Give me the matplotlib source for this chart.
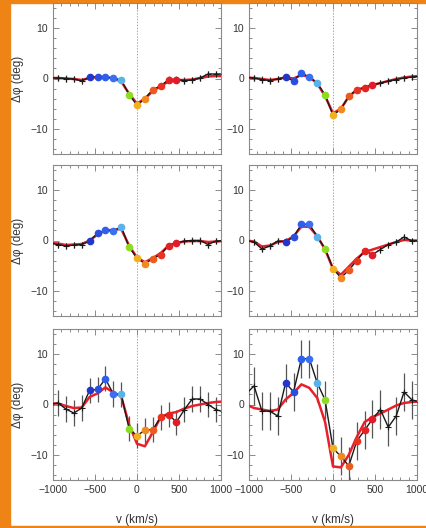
import matplotlib
matplotlib.use("Agg")
import matplotlib.pyplot as plt
from matplotlib.patches import Rectangle
from matplotlib.ticker import MultipleLocator

plt.rcParams['font.family'] = ['Liberation Sans', 'DejaVu Sans']

# velocity channels (km/s)
vel = [-1034, -940, -846, -752, -658, -564, -470, -376, -282, -188, -94, 0,
       94, 188, 282, 376, 470, 564, 658, 752, 846, 940, 1034]

# observed position-angle offsets (deg), one list per panel
obs_1 = [0.1, 0.1, 0.0, -0.1, -0.5, 0.3, 0.3, 0.3, 0.1, -0.3, -3.2, -5.3,
         -4.0, -2.2, -1.5, -0.2, -0.2, -0.4, -0.3, 0.1, 0.9, 0.9, 0.9]
obs_2 = [0.2, 0.1, -0.2, -0.4, -0.1, 0.3, -0.5, 1.1, 0.3, -0.9, -3.3, -7.3,
         -6.1, -3.5, -2.2, -1.8, -1.3, -0.9, -0.5, -0.2, 0.1, 0.3, 0.4]
obs_3 = [-0.5, -0.8, -1.1, -0.9, -0.8, -0.1, 1.4, 2.0, 1.9, 2.7, -1.3, -3.5,
         -4.6, -3.6, -2.8, -1.0, -0.5, -0.1, 0.0, 0.0, -0.8, -0.1, 0.0]
obs_4 = [0.0, -0.3, -1.7, -1.1, -0.1, -0.2, 0.7, 3.2, 3.3, 0.7, -1.6, -5.6,
         -7.4, -5.9, -4.0, -2.0, -2.8, -1.8, -0.8, -0.3, 0.7, -0.1, 0.0]
obs_5 = [0.0, 0.3, -0.9, -1.7, -0.7, 2.8, 3.0, 5.1, 2.1, 2.0, -4.8, -6.2,
         -5.1, -5.0, -2.5, -2.0, -3.5, -1.0, 1.1, 1.1, 0.0, -1.0, -1.5]
obs_6 = [2.1, 3.7, -1.3, -1.3, -2.3, 4.3, 2.5, 9.1, 9.1, 4.3, 0.9, -8.7,
         -10.3, -12.2, -7.3, -5.1, -2.9, -1.0, -4.5, -2.3, 2.5, 0.9, 0.5]

# model curves
mod_1 = [0.1, 0.1, 0.0, -0.1, -0.3, 0.1, 0.3, 0.3, 0.0, -0.6, -3.0, -5.0,
         -4.0, -2.5, -1.5, -0.6, -0.3, -0.3, -0.2, 0.1, 0.4, 0.5, 0.5]
mod_2 = [0.2, 0.1, -0.1, -0.3, -0.1, 0.2, 0.0, 0.7, 0.3, -1.0, -3.5, -6.9,
         -6.0, -3.6, -2.3, -1.8, -1.3, -0.9, -0.5, -0.1, 0.2, 0.4, 0.5]
mod_3 = [-0.5, -0.6, -0.9, -0.8, -0.7, 0.0, 1.2, 2.0, 2.1, 2.3, -1.0, -3.4,
         -4.3, -3.5, -2.5, -1.0, -0.5, -0.2, -0.1, -0.1, -0.3, -0.2, -0.1]
mod_4 = [0.0, -0.2, -1.2, -1.0, -0.3, -0.1, 0.8, 2.8, 2.7, 0.9, -1.8, -5.6,
         -6.8, -5.2, -3.6, -2.3, -1.8, -1.3, -0.8, -0.3, 0.1, 0.0, 0.0]
mod_5 = [0.2, 0.2, -0.3, -0.7, -0.6, 1.5, 2.2, 3.4, 2.4, 1.6, -4.0, -7.8,
         -8.3, -5.5, -2.5, -1.8, -1.5, -0.8, -0.3, 0.0, 0.3, 0.5, 0.6]
mod_6 = [0.0, -0.7, -1.0, -1.3, -1.0, 1.0, 2.3, 4.0, 3.3, 1.3, -3.5, -12.3,
         -12.5, -10.0, -6.5, -3.5, -2.5, -1.8, -1.0, -0.2, 0.3, 0.5, 0.6]

errs = [0.6, 0.6, 0.6, 0.6, 2.5, 3.8]

# channels that get coloured dots (index into vel) and their colours
dot_idx = [5, 6, 7, 8, 9, 10, 11, 12, 13, 14, 15, 16]
dot_colors = ['#2236cc', '#2a4fe0', '#3060ea', '#3a6ff0', '#5ab2ea', '#8cdc22',
              '#f2b020', '#f08a20', '#ec5a1e', '#e83222', '#e42222', '#e01c2c']

panels = [(obs_1, mod_1), (obs_2, mod_2), (obs_3, mod_3),
          (obs_4, mod_4), (obs_5, mod_5), (obs_6, mod_6)]

W, H = 427, 528
fig = plt.figure(figsize=(W / 100, H / 100), dpi=100)
# orange frame strips (left, top, bottom)
for xy, w, h in [((0, 0), 10.5 / W, 1), ((0, 1 - 3 / H), 1, 3 / H),
                 ((0, 0), 1, 2.5 / H)]:
    fig.patches.append(Rectangle(xy, w, h, transform=fig.transFigure,
                                 color='#ef8416', zorder=-5))

lefts = [53 / W, 249 / W]
bottoms = [1 - 154 / H, 1 - 316 / H, 1 - 480 / H]
aw, ah = 168 / W, 151 / H
grey = '#8a8a8a'
txt = '#333333'

for i, (obs, mod) in enumerate(panels):
    row, col = divmod(i, 2)
    ax = fig.add_axes([lefts[col], bottoms[row], aw, ah])
    ax.axvline(0, color='#aaaaaa', ls=(0, (1.5, 1.5)), lw=0.7, zorder=1)
    ax.errorbar(vel, obs, yerr=errs[i], fmt='none', ecolor='#555555',
                elinewidth=0.9, capsize=0, zorder=2)
    ax.plot(vel, mod, color='#e8202a', lw=1.8, zorder=3)
    ax.plot(vel, obs, color='#1a1a1a', lw=1.0, marker='+', ms=4, mew=0.8, zorder=4)
    for j, c in zip(dot_idx, dot_colors):
        ax.plot(vel[j], obs[j], 'o', color=c, ms=4.5, mec=c, zorder=5)

    ax.set_xlim(-1000, 1000)
    ax.set_ylim(-15, 15)
    ax.xaxis.set_major_locator(MultipleLocator(500))
    ax.xaxis.set_minor_locator(MultipleLocator(100))
    ax.yaxis.set_major_locator(MultipleLocator(10))
    ax.yaxis.set_minor_locator(MultipleLocator(2))
    ax.tick_params(which='both', direction='in', top=True, right=True,
                   color=grey, width=0.7, labelsize=7.5, labelcolor=txt)
    ax.tick_params(which='major', length=4)
    ax.tick_params(which='minor', length=2.5)
    for s in ax.spines.values():
        s.set_color(grey)
        s.set_linewidth(0.8)
    ax.set_yticks([-10, 0, 10])
    ax.set_yticklabels(['\u221210', '0', '10'])
    if row == 2:
        ax.set_xticks([-1000, -500, 0, 500, 1000])
        ax.set_xticklabels(['\u22121000', '\u2212500', '0', '500', '1000'])
        ax.set_xlabel('v (km/s)', fontsize=8.5, color=txt, labelpad=14)
    else:
        ax.set_xticklabels([])
    if col == 0:
        ax.set_ylabel('\u0394\u03c6 (deg)', fontsize=8.5, color=txt)
        ax.yaxis.set_label_coords(-0.17, 0.5)

fig.savefig('out.png', dpi=100, facecolor='white')
